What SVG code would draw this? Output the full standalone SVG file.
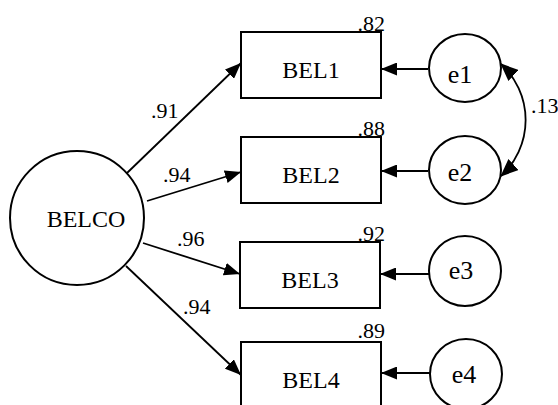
<svg xmlns="http://www.w3.org/2000/svg" width="558" height="405" viewBox="0 0 558 405">
<defs>
<style>
text{font-family:"Liberation Serif","DejaVu Serif",serif;fill:#000}
.shape{fill:#fff;stroke:#000;stroke-width:2}
.lbl{font-size:24px}
.elbl{font-size:26px}
.num{font-size:22px}
.edge{fill:none;stroke:#000;stroke-width:1.8}
</style>
<marker id="ah" markerUnits="userSpaceOnUse" viewBox="0 0 16 13" refX="16" refY="6.5" markerWidth="16" markerHeight="13" orient="auto-start-reverse">
<path d="M0,0 L16,6.5 L0,13 z" fill="#000"/>
</marker>
<marker id="ahb" markerUnits="userSpaceOnUse" viewBox="0 0 18 15" refX="17" refY="7.5" markerWidth="18" markerHeight="15" orient="auto-start-reverse">
<path d="M0,0 L18,7.5 L0,15 z" fill="#000"/>
</marker>
</defs>
<rect width="558" height="405" fill="#fff"/>
<g id="connectors">
<path class="edge" d="M127,173 L241,63" marker-end="url(#ah)"/>
<path class="edge" d="M147,201 L241,172" marker-end="url(#ah)"/>
<path class="edge" d="M143,243 L240,274" marker-end="url(#ah)"/>
<path class="edge" d="M126,266 L241,375" marker-end="url(#ah)"/>
<path class="edge" d="M428,69 L381,69" marker-end="url(#ah)"/>
<path class="edge" d="M428,171 L381,171" marker-end="url(#ah)"/>
<path class="edge" d="M429,274 L380,274" marker-end="url(#ah)"/>
<path class="edge" d="M431,373 L381,373" marker-end="url(#ah)"/>
<path class="edge" d="M501,64 A76,76 0 0 1 501,176" stroke-width="2.6" marker-start="url(#ahb)" marker-end="url(#ahb)"/>
<text class="num" x="151" y="118">.91</text>
<text class="num" x="163" y="182">.94</text>
<text class="num" x="177" y="246">.96</text>
<text class="num" x="183" y="314">.94</text>
<text class="num" x="531" y="113">.13</text>
</g>
<g id="BELCO">
<circle class="shape" cx="77" cy="218" r="67"/>
<text class="lbl" x="86" y="227" text-anchor="middle">BELCO</text>
</g>
<g id="BEL1">
<rect class="shape" x="241" y="32" width="140" height="66"/>
<text class="lbl" x="311" y="78" text-anchor="middle">BEL1</text>
<text class="num" x="385" y="31" text-anchor="end">.82</text>
</g>
<g id="BEL2">
<rect class="shape" x="241" y="137" width="140" height="66"/>
<text class="lbl" x="311" y="183" text-anchor="middle">BEL2</text>
<text class="num" x="385" y="136" text-anchor="end">.88</text>
</g>
<g id="BEL3">
<rect class="shape" x="240" y="242" width="140" height="66"/>
<text class="lbl" x="310" y="288" text-anchor="middle">BEL3</text>
<text class="num" x="385" y="241" text-anchor="end">.92</text>
</g>
<g id="BEL4">
<rect class="shape" x="241" y="342" width="140" height="66"/>
<text class="lbl" x="311" y="388" text-anchor="middle">BEL4</text>
<text class="num" x="385" y="338" text-anchor="end">.89</text>
</g>
<g id="e1">
<ellipse class="shape" cx="465" cy="68" rx="36" ry="34"/>
<text class="elbl" x="460" y="83" text-anchor="middle">e1</text>
</g>
<g id="e2">
<ellipse class="shape" cx="465" cy="170" rx="36" ry="34"/>
<text class="elbl" x="460" y="181" text-anchor="middle">e2</text>
</g>
<g id="e3">
<ellipse class="shape" cx="465" cy="271" rx="36" ry="35"/>
<text class="elbl" x="461" y="279" text-anchor="middle">e3</text>
</g>
<g id="e4">
<ellipse class="shape" cx="466" cy="374" rx="36" ry="35"/>
<text class="elbl" x="464" y="383" text-anchor="middle">e4</text>
</g>
</svg>
